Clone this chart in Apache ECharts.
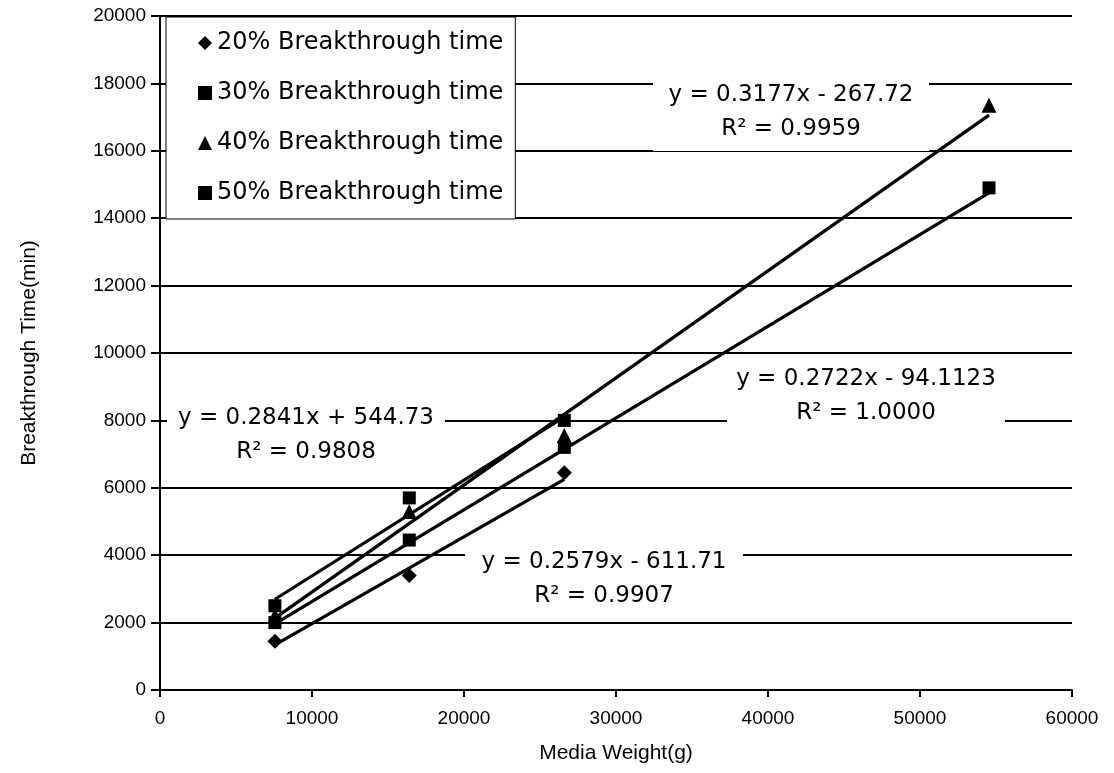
<!DOCTYPE html>
<html>
<head>
<meta charset="utf-8">
<title>Breakthrough Time vs Media Weight</title>
<script src="https://cdn.jsdelivr.net/npm/echarts@6/dist/echarts.min.js"></script>
<style>
  html, body { margin: 0; padding: 0; background: #fff; }
  #chart { width: 1114px; height: 773px; }
</style>
</head>
<body>
<div id="chart"></div>
<script>
// Media weight (g) of each column run
const mediaWeight = [7560, 16400, 26600, 54540];

// Breakthrough times (min) for each breakthrough level; null = not measured
const bt20 = [1450, 3400, 6450, null];
const bt30 = [2000, 4450, 7200, 14900];
const bt40 = [2200, 5300, 7550, 17350];
const bt50 = [2500, 5700, 8000, null];

const seriesNames = [
  '20% Breakthrough time',
  '30% Breakthrough time',
  '40% Breakthrough time',
  '50% Breakthrough time'
];

// Linear trendline fits: y = slope * x + intercept
const slopes = [0.2579, 0.2722, 0.3177, 0.2841];
const intercepts = [-611.71, -94.1123, -267.72, 544.73];
const slopeText = ['0.2579', '0.2722', '0.3177', '0.2841'];
const interceptText = ['611.71', '94.1123', '267.72', '544.73'];
const r2Text = ['0.9907', '1.0000', '0.9959', '0.9808'];

// Axis ticks
const xTicks = [0, 10000, 20000, 30000, 40000, 50000, 60000];
const yTicks = [0, 2000, 4000, 6000, 8000, 10000, 12000, 14000, 16000, 18000, 20000];

const allValues = [bt20, bt30, bt40, bt50];
const symbols = ['diamond', 'rect', 'triangle', 'rect'];
const symbolSizes = [15, 13, 15, 13];

const FONT_LABEL = 'DejaVu Sans';
const FONT_AXIS = '"Liberation Sans", Arial, sans-serif';

const points = allValues.map(vals =>
  mediaWeight.map((x, i) => [x, vals[i]]).filter(p => p[1] !== null)
);

const scatterSeries = points.map((pts, k) => ({
  name: seriesNames[k],
  type: 'scatter',
  data: pts,
  symbol: symbols[k],
  symbolSize: symbolSizes[k],
  itemStyle: { color: '#000', opacity: 1 },
  z: 4
}));

// Trendlines span the measured range of each series
const trendSeries = points.map((pts, k) => {
  const xs = pts.map(p => p[0]);
  const x0 = Math.min(...xs), x1 = Math.max(...xs);
  return {
    name: 'trend' + k,
    type: 'line',
    data: [[x0, slopes[k] * x0 + intercepts[k]], [x1, slopes[k] * x1 + intercepts[k]]],
    symbol: 'none',
    lineStyle: { color: '#000', width: 3.2 },
    silent: true,
    z: 3
  };
});

// Equation boxes per series: [centre x, top y, width, height] in pixels
const eqBoxes = [
  [604, 545, 278, 68],
  [866, 360, 278, 72],
  [791, 73, 276, 78],
  [306, 400, 278, 70]
];

function equationText(k) {
  const sign = intercepts[k] < 0 ? '-' : '+';
  return 'y = ' + slopeText[k] + 'x ' + sign + ' ' + interceptText[k];
}

const graphics = [];
eqBoxes.forEach((b, k) => {
  const [cx, top, w, h] = b;
  graphics.push({
    type: 'rect', z: 10,
    shape: { x: cx - w / 2, y: top, width: w, height: h },
    style: { fill: '#fff' }
  });
  graphics.push({
    type: 'text', z: 11,
    style: {
      text: equationText(k),
      x: cx, y: top + h / 2 - 17,
      font: '23px ' + FONT_LABEL,
      fill: '#000',
      textAlign: 'center', textVerticalAlign: 'middle'
    }
  });
  graphics.push({
    type: 'text', z: 11,
    style: {
      text: 'R\u00B2 = ' + r2Text[k],
      x: cx, y: top + h / 2 + 17,
      font: '23px ' + FONT_LABEL,
      fill: '#000',
      textAlign: 'center', textVerticalAlign: 'middle'
    }
  });
});

const chart = echarts.init(document.getElementById('chart'), null, { renderer: 'canvas' });

chart.setOption({
  backgroundColor: '#fff',
  animation: false,
  grid: { left: 160, right: 42, top: 16, bottom: 83, containLabel: false },
  legend: {
    data: seriesNames.map((n, k) => ({ name: n, icon: symbols[k] })),
    orient: 'vertical',
    left: 166,
    top: 17,
    width: 347,
    itemWidth: 14,
    itemHeight: 14,
    itemGap: 26,
    padding: [14, 12, 14, 32],
    backgroundColor: '#fff',
    borderColor: '#000',
    borderWidth: 1,
    itemStyle: { color: '#000', opacity: 1 },
    textStyle: { fontFamily: FONT_LABEL, fontSize: 24, color: '#000' },
    selectedMode: false,
    z: 6
  },
  xAxis: {
    type: 'value',
    min: xTicks[0],
    max: xTicks[xTicks.length - 1],
    interval: xTicks[1] - xTicks[0],
    name: 'Media Weight(g)',
    nameLocation: 'middle',
    nameGap: 53,
    nameTextStyle: { fontFamily: FONT_AXIS, fontSize: 21, color: '#000' },
    axisLine: { show: true, onZero: false, lineStyle: { color: '#000', width: 2 } },
    axisTick: { show: true, inside: false, length: 7, lineStyle: { color: '#000', width: 2 } },
    axisLabel: { fontFamily: FONT_AXIS, fontSize: 19, color: '#000', margin: 19, formatter: v => String(v) },
    splitLine: { show: false }
  },
  yAxis: {
    type: 'value',
    min: yTicks[0],
    max: yTicks[yTicks.length - 1],
    interval: yTicks[1] - yTicks[0],
    name: 'Breakthrough Time(min)',
    nameLocation: 'middle',
    nameGap: 120,
    nameTextStyle: { fontFamily: FONT_AXIS, fontSize: 21, color: '#000' },
    axisLine: { show: true, onZero: false, lineStyle: { color: '#000', width: 2 } },
    axisTick: { show: true, inside: false, length: 9, lineStyle: { color: '#000', width: 2 } },
    axisLabel: { fontFamily: FONT_AXIS, fontSize: 19, color: '#000', margin: 14, formatter: v => String(v) },
    splitLine: { show: true, lineStyle: { color: '#000', width: 2 } }
  },
  graphic: { elements: graphics },
  series: [...trendSeries, ...scatterSeries]
});
</script>
</body>
</html>
